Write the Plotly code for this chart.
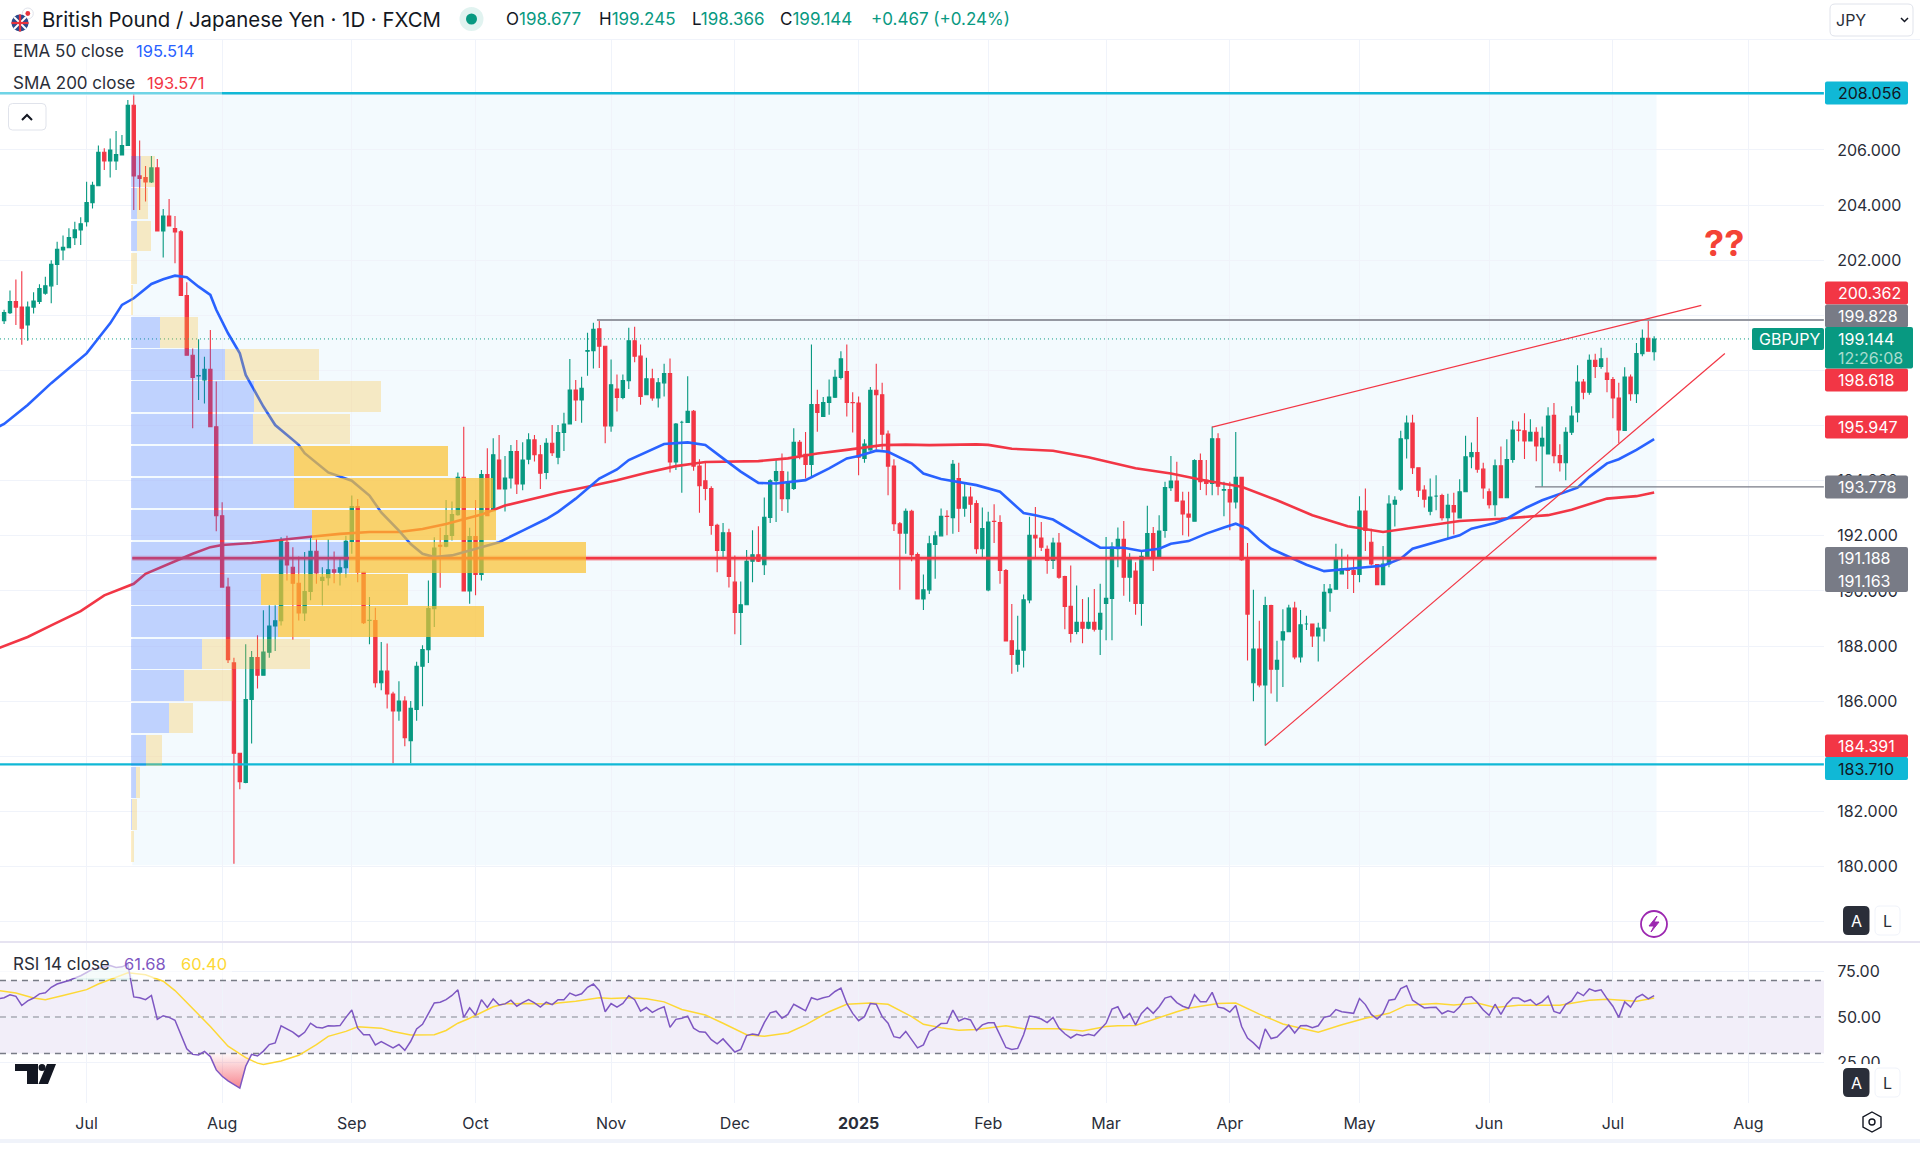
import plotly.graph_objects as go

# GBP/JPY daily candles
opens = [199.81,200.1,200.5,200.3,199.65,200.3,200.5,200.8,201.07,201.85,
    202.37,202.45,202.82,203.1,203.4,204.09,204.7,205.92,205.6,205.6,
    205.82,206.16,207.62,205.06,205,204.84,205.35,203.06,203.6,203.15,
    203.03,200.72,198.55,197.8,197.66,198.04,195.96,192.73,190.14,187.39,
    184.11,183.05,186.06,187.58,186.94,187.78,188.73,188.92,191.77,190.86,
    190.28,189.2,189.98,191.44,190.38,190.48,190.77,190.68,190.84,191.8,
    193.06,190.68,188.93,188.93,186.67,187.09,186.26,185.65,186.01,184.57,
    185.7,187.27,187.87,189.36,191.66,191.62,192.01,192.77,194.12,190,
    191.97,190.6,194.22,192.91,194.75,193.7,194.1,195.06,193.88,194.78,
    195.48,194.94,194.3,195.36,194.85,195.75,196.06,197.29,196.93,198.7,
    198.72,199.51,198.88,195.99,197.33,197.02,197.63,199.08,198.52,197.12,
    197.7,197,197.55,197.89,194.68,196.12,196.11,196.52,194.53,194,
    193.72,192.38,191.47,192.11,190.32,189.22,189.5,191.08,191.31,190.95,
    192.67,194,194.33,193.35,193.72,195.39,194.96,194.59,196.76,196.33,
    196.84,197.03,197.75,197.96,196.84,196.82,194.81,195.12,197.28,197.12,
    195.69,194.53,192.44,192.1,192.89,191.32,189.71,190.04,191.69,192,
    192.71,192.66,194.08,193,193.41,193.17,191.53,190.04,192.53,192.48,
    190.74,188.19,187.34,187.85,189.67,192.02,191.92,191.51,191.11,191.74,
    190.52,189.44,188.53,188.86,188.65,188.86,188.61,
    189.55,189.73,191.53,191.87,190.5,190.72,189.55,191.25,192.08,191.25,
    192.2,193.75,193.99,193.26,192.79,192.53,194.73,194.02,193.9,195.52,
    193.66,193.68,193.23,194.12,191.13,186.67,187.89,186.59,189.47,187.16,
    188.22,188.52,189.38,187.61,188.8,188.8,188.37,188.65,189.94,190.06,
    190.62,190.77,190.74,190.6,192.9,191.77,190.96,190.23,190.98,193.15,
    193.69,195.52,196.09,194.47,193.66,192.89,193.44,193.46,192.66,193.1,
    192.65,193.6,194.87,195.02,194.42,193.6,193.13,194.54,193.38,194.77,
    195.84,195.81,195.44,195.76,195.26,194.97,196.37,194.91,194.65,195.76,
    196.49,197.58,197.21,198.37,198.15,197.91,197.67,197,195.82,197.76,
    197.16,198.61,199.17,198.677]
highs = [200.2,200.9,201.3,201.6,200.5,200.84,201.13,201.4,202,202.67,
    202.9,203.16,203.4,203.56,204.85,204.85,206.16,206.06,206.42,206.69,
    206.54,207.81,208.05,206.34,205.42,205.78,205.67,203.86,204.22,203.6,
    203.1,201.2,198.8,199.13,198.5,199.47,197.6,193.22,190.48,187.58,
    184.13,188.07,187.82,188.39,189.3,189.48,189.48,191.95,192,191.59,
    191.25,191.41,191.95,191.89,190.86,191.88,191.43,191.23,192,193.46,
    193.34,190.68,189.78,189.39,188.15,188.09,186.34,186.72,186.18,186.01,
    187.43,188.03,190.38,191.95,192.29,193.3,193.25,194.3,195.96,192.29,
    193.3,194.39,195.18,195.54,195.66,194.9,195.3,195.48,195.4,195.72,
    195.66,195.3,195.54,196.02,196.02,196.47,198.42,197.65,197.77,199.37,
    199.73,199.85,198.9,198.4,197.85,197.85,199.55,199.59,198.94,198.46,
    198.06,197.73,198.24,198.43,196.09,196.18,197.79,196.57,194.78,194.65,
    193.8,192.44,192.47,192.26,191.29,190.34,191.49,192.2,192.35,193.39,
    194.05,194.75,194.99,194.33,195.9,195.48,195.77,198.94,197.3,197.04,
    197.67,198.03,198.7,198.94,197.21,197.06,195.5,197.4,198.24,197.55,
    195.82,194.78,192.5,192.99,192.95,191.4,190.6,192,192.17,192.99,
    192.93,194.75,194.65,193.92,193.78,193.29,193.03,192.87,193.15,192.75,
    190.8,189.53,189.1,189.87,192.69,193.05,192.5,191.65,191.93,192.1,
    190.55,190.92,190.2,189.71,189.77,190.07,190.26,
    191.96,191.77,192.3,192.54,191.37,191.04,191.47,193.09,192.32,192.75,
    193.96,194.9,194.69,193.6,193.6,194.78,194.99,194.75,195.97,195.72,
    193.96,193.96,195.77,194.14,191.74,190.04,188.92,189.79,189.5,188.19,
    189.34,189.5,189.61,189.31,189.1,188.82,188.85,190.25,190.25,191.71,
    191.53,191.32,191.17,193.44,193.72,192.26,190.98,191.63,193.47,193.44,
    195.81,196.37,196.39,194.47,193.84,194.08,194.2,193.53,193.53,193.56,
    194.05,195.63,195.39,196.31,194.65,193.72,194.77,195.24,195.5,196.18,
    196.15,196.45,196.23,195.94,195.97,196.67,196.82,195.32,195.94,196.7,
    198.19,197.69,198.58,198.61,198.82,198.46,197.76,197.55,198.12,197.85,
    199,199.49,199.83,199.245]
lows = [199.69,200.05,199.65,198.93,199.08,200.07,200.41,200.75,200.44,201.1,
    202,202.43,202.55,202.55,203.22,203.88,204.7,205.27,205,205.27,
    205.82,206.16,203.82,203.82,204.13,204.8,203.04,202.1,203.24,201.89,
    200.72,198.55,195.9,196.93,196.8,195.94,192.17,190.14,187.39,180.1,
    182.81,183.02,184.47,186.46,186.94,187.58,187.82,188.75,190.38,188.23,
    188.93,188.91,189.66,190.26,189.48,190.2,190.28,190.2,190.48,191.35,
    190.32,188.8,188.07,186.5,186.4,185.74,183.75,185.29,184.37,183.75,
    185.29,185.82,187.39,188.69,190.12,191.59,191.83,192.73,190,189.54,
    189.84,190.38,192.73,192.91,193.7,192.88,193.72,193.52,193.65,194.6,
    194.7,193.7,194.05,194.9,194.6,195.08,196.06,196.17,196.1,197.81,
    198.07,198.09,195.36,195.78,196.51,196.96,197.33,198.3,196.76,197.12,
    196.9,196.66,197.06,194.3,194.39,193.56,196.09,194.36,192.84,193.29,
    192.04,190.68,191.17,190.13,188.43,188.04,189.5,190.32,191.05,190.58,
    192.47,192.5,192.9,192.84,193.66,194.78,194.08,194.14,195.78,196.33,
    196.39,197,197.67,196.33,195.75,194.2,194.65,195.09,195.12,195.12,
    193.47,192.18,190.04,191.35,191.08,189.71,189.31,189.89,190.44,191.98,
    192.02,192.08,192.14,192.69,192.47,191.35,191.23,189.99,191.74,190.26,
    188.19,187,187.07,187.22,189.55,191.2,191.45,190.62,190.8,190.44,
    188.61,188.13,188.43,188.1,188.61,188.53,187.68,
    188.21,188.21,190.86,189.83,189.61,189.14,188.74,191.23,190.72,191.23,
    191.93,193.63,193.26,192.02,191.98,192.53,193.66,193.47,193.47,193.47,
    192.71,192.2,192.99,191.1,187.48,186,186.51,184.39,186.28,185.98,
    186.52,188.5,187.52,187.4,188.58,187.97,187.44,188.17,189.25,190.04,
    190.62,190.07,189.93,190.32,191.45,190.92,190.23,190.23,190.86,192.34,
    193.63,194.81,194.24,193.41,193.03,192.75,192.93,192.56,191.9,192.05,
    192.65,193.6,194.45,194.29,193.35,192.99,192.71,193.38,193.38,194.65,
    195.42,194.79,195.44,194.71,193.78,194.97,194.63,194.33,194.02,195.66,
    196.12,196.96,197.12,197.73,198.06,197.21,196.27,195.36,195.82,196.9,
    196.82,198.52,198.68,198.366]
closes = [200.1,200.5,200.3,199.53,200.3,200.52,200.97,201.07,201.85,202.4,
    202.47,202.82,203.1,203.32,204.09,204.72,205.92,205.6,206,205.83,
    206.16,207.62,205.06,204.97,204.84,205.35,203.06,203.6,203.24,203.03,
    200.72,198.55,197.75,197.82,198.04,195.96,192.73,190.14,187.51,184.11,
    183.08,186.06,187.58,186.94,187.78,188.73,188.92,191.83,190.94,190.28,
    189.2,189.98,191.44,190.65,190.5,190.77,190.68,190.84,191.8,193.06,
    190.68,188.85,188.94,186.67,187.09,186.26,185.65,186.01,184.68,185.74,
    187.27,187.87,189.36,191.56,191.62,192.01,192.77,194.12,190,191.97,
    190.6,194.22,192.73,194.94,193.7,194.1,195.06,193.88,194.75,195.48,
    194.94,194.27,195.36,195.02,195.75,196.06,197.29,196.93,197.35,198.72,
    199.49,198.88,195.99,197.48,197.02,197.63,199.08,198.52,197.06,197.7,
    197,197.55,197.89,194.68,196.06,196.12,196.52,194.53,193.82,193.72,
    192.38,191.47,192.11,190.53,189.22,189.5,191.08,191.31,191.08,192.67,
    194,194.33,193.35,193.96,195.39,194.93,194.59,196.76,196.48,196.84,
    197.04,197.75,198.42,196.84,196.83,194.85,195.33,197.28,197.12,195.69,
    194.53,192.44,192.1,192.89,191.32,189.71,190.04,191.71,192,192.71,
    192.7,194.6,193,193.41,193.15,191.53,192.26,192.5,192.52,190.74,
    188.19,187.7,187.85,189.68,192.02,191.92,191.59,191.11,191.74,190.5,
    189.44,188.46,188.86,188.65,188.86,188.61,189.19,
    189.73,191.59,191.87,190.5,191.17,189.55,191.26,192.08,191.25,192.17,
    193.75,193.99,193.26,192.79,192.68,194.73,193.96,193.9,195.52,193.8,
    193.68,193.23,194.12,191.13,189.16,187.89,186.59,189.47,187.16,187.48,
    188.52,189.38,187.61,188.77,188.8,188.37,188.65,189.95,190.07,191.14,
    190.8,190.74,190.6,192.9,192.2,190.98,190.23,190.98,193.15,193.29,
    195.52,196.09,194.47,193.66,193.33,193.41,193.44,192.66,193.11,192.87,
    193.6,194.87,195.02,194.42,193.74,193.13,194.54,193.38,194.77,195.84,
    195.82,195.44,195.76,195.26,195.54,196.35,194.91,194.65,195.76,196.35,
    197.58,197.21,198.37,198.15,198.42,197.67,197,195.84,197.76,197.16,
    198.61,199.17,198.7,199.144]

# moving averages, read at irregular bars
ema_bar = [-1,0,4,8,11,14,16,18,20,22,25,27,29,31,33,35,36,38,40,41,44,46,50,51,55,59,62,64,67,69,71,
    73,76,78,80,84,88,92,94,97,101,104,106,109,112,116,119,122,125,128,131,136,140,143,145,148,150,
    154,156,159,162,165,169,173,175,178,182,186,190,193,196,198,201,204,207,209,211,213,215,218,221,
    224,227,231,234,237,239,243,247,249,253,255,258,261,265,267,269,272,274,277,280]
ema_50 = [195.95,196.06,196.75,197.54,198.08,198.62,199.17,199.71,200.38,200.62,201.14,201.31,201.44,201.38,201.04,
    200.74,200.2,199.35,198.62,197.84,196.69,196.02,195.3,195,194.3,194,193.46,192.85,192.19,191.7,191.35,
    191.23,191.29,191.41,191.53,191.77,192.19,192.61,192.87,193.35,194.08,194.41,194.75,195.05,195.33,195.39,
    195.3,194.81,194.33,193.92,193.9,194.02,194.45,194.81,194.9,195.09,195.05,194.63,194.26,194.06,193.96,
    193.84,193.6,192.83,192.75,192.59,192.08,191.57,191.57,191.45,191.53,191.71,191.81,192.08,192.3,192.44,
    192.26,191.86,191.53,191.23,190.95,190.72,190.77,190.86,190.92,191.17,191.53,191.77,192.02,192.26,192.47,
    192.62,192.99,193.29,193.6,193.75,194.14,194.63,194.78,195.12,195.51]
sma_bar = [-1,0,4,8,13,17,22,24,28,32,35,37,42,48,52,57,62,67,71,75,78,81,85,89,94,99,104,109,114,119,123,128,
    133,138,143,149,153,157,165,167,171,178,184,192,198,204,210,216,222,228,234,239,247,254,262,266,272,277,280]
sma_200 = [187.92,188,188.33,188.75,189.27,189.84,190.26,190.62,190.98,191.35,191.59,191.67,191.74,191.89,191.97,192.07,
    192.14,192.14,192.25,192.43,192.61,192.77,193.1,193.3,193.56,193.78,194.02,194.29,194.53,194.68,194.7,194.71,
    194.81,194.99,195.12,195.29,195.31,195.29,195.32,195.3,195.16,195.09,194.85,194.45,194.26,194,193.78,193.29,
    192.75,192.35,192.14,192.3,192.54,192.62,192.75,192.95,193.35,193.44,193.57]

# RSI pane
rsi_14 = [60,60.6,62.2,61.3,56.3,58.8,60.4,62.7,63.3,66.3,68.1,
    69,70,71.4,72.6,74.4,76.2,76.7,77.3,78.2,77.1,
    77.5,79,61,60.6,59.5,61.8,48.7,50.7,49.8,48.2,
    40.3,32.6,29.5,29.2,31.1,28.3,21,17.5,15,12.9,
    11,23,29.5,28.6,31.3,34.9,35.8,45.2,43.4,41.7,
    39.2,41.6,46.6,44.4,44,45.2,45,45.3,49.8,53.8,
    43.9,40.3,40.3,34.7,36.5,34.9,33.1,34.9,31.7,36.7,
    43.4,46,52.3,57.7,58.1,59.5,61.8,64.9,49.8,55,
    51,59.5,55.2,59.9,56.6,57.2,59.2,55.9,57.9,59.5,
    57.7,55.4,58.1,56.8,59.5,59.5,63.1,61.7,62.7,66.3,
    68.1,64.5,52.9,57.4,55.4,57.4,61.7,59.5,53.2,55.2,
    52.5,54.3,55.6,44.3,48.7,49.3,50.5,43.9,41.9,41.6,
    37.6,35.3,38,34.4,30.8,32.2,39.8,40.7,40.1,46.9,
    52.3,53.2,49.3,51.4,57,55.2,53.4,60.6,59.5,60.6,
    61.3,64,65.8,57.4,52,48,50.2,57.4,57,50.2,
    46.6,39.2,38.5,42.1,37.6,33.1,34.7,42.1,43.9,46.4,
    46.6,53.8,47.8,49.3,48.4,42.6,45.7,46.8,46.8,39.8,
    33.3,32.2,32.8,40.3,50.5,50,48.9,46.9,49.8,43.9,
    40.8,38.5,40.5,39.8,40.5,39.8,43.4,46.6,54.3,55.6,
    49.3,52,45.7,52,55.2,52,55.6,60.4,61.3,57.9,
    55.9,54.8,62.2,58.4,58.3,63.5,55.4,54.8,52.7,56.3,
    44.8,38.5,35.8,32.6,43.5,38.2,39,42.5,45.5,41.2,
    45.2,45.3,44.1,45.2,49.8,50.5,54.1,52.9,52.5,52,
    60.1,56.8,51.4,48.9,52,59.2,59.7,65.6,67.1,59.2,
    57,55,55.2,55.4,51.8,53.4,52.5,55.6,60.6,61.1,
    57.9,53.8,50.9,57,51.4,57.2,60.4,60.4,58.4,59.5,
    56.6,58.3,61.5,53.1,52,57,58.8,63.6,61.7,65.4,
    64.2,64.9,60.1,55.9,49.8,58.3,55.4,60.6,62.4,59.9,61.7]
rsi_ma_bar = [-1,2,5,7,10,14,16,19,21,24,27,29,32,35,38,41,43,44,47,50,53,55,58,60,64,66,69,73,75,77,79,83,85,89,93,
    94,97,101,103,106,109,112,115,119,122,126,129,133,136,140,143,147,150,154,156,159,162,165,170,173,179,183,187,
    189,192,196,199,201,206,209,213,217,220,223,227,231,235,238,243,246,250,253,257,264,269,272,277,280]
rsi_ma = [64.5,63.1,60.4,59.5,61.8,65,68.1,72,74.2,73.2,69.6,64.5,54.7,44.8,34,27.7,24.7,24,25.9,29,34.9,39.4,42.1,44.6,
    43.9,42.1,40.1,40.3,42.6,46.6,49.3,55.6,57.2,57.4,57,57.7,58.6,60.6,60.2,60.6,60,58.3,54.1,51.1,46.6,40.3,39.4,41.2,
    45.7,52.9,57,57.7,57,50.2,46,44.1,42.8,43.2,45.2,43.5,43.5,42.3,44.8,45.2,45.3,49.8,52.9,54.8,57.4,57.7,51.6,46.2,
    43.9,41.6,45.7,49.3,52,56.5,57.4,56.6,57.7,55.2,56.5,56.5,59.2,59.7,58.6,60.4]

# volume profile rows, top to bottom
row_price = [205.21,204.05,202.88,201.71,200.55,199.38,198.22,197.05,195.88,194.72,193.55,
    192.39,191.22,190.05,188.89,187.72,186.56,185.39,184.22,183.06,181.89,180.73]
vol_up = [10,6,6,0,0,29,94,123,122,163,163,181,218,130,147,71,53,38,15.5,5,1,0]
vol_down = [14.5,11.5,14,6,2,38,94.6,127,97,154.5,199,184,237,147,206,108,49,24,15.5,4,5.5,3]
value_area = [False]*9 + [True]*6 + [False]*7

month_bars = [14,37,59,80,103,124,145,167,187,208,230,252,273,296]
month_labels = ['Jul','Aug','Sep','Oct','Nov','Dec','<b>2025</b>','Feb','Mar','Apr','May','Jun','Jul','Aug']
price_ticks = list(range(178, 212, 2))
price_tick_text = ['','180.000','182.000','','186.000','188.000','190.000','192.000','194.000','','','','202.000','204.000','206.000','','210.000']

W, H = 1920, 1151
AXIS_X = 1824
FIRST_BAR_PX, BAR_PX = 4.1, 5.893
UP, DOWN = '#089981', '#f23645'
CYAN, GREY = '#10b8d6', '#787b86'
TEXT = '#2a2e39'
FONT = 'Inter'


def fx(x):
    return x / W


def fy(y):
    return 1 - y / H


def rounded(x0, y0, x1, y1, r=3):
    p = [f'M{fx(x0 + r)},{fy(y0)}', f'L{fx(x1 - r)},{fy(y0)}', f'Q{fx(x1)},{fy(y0)} {fx(x1)},{fy(y0 + r)}',
         f'L{fx(x1)},{fy(y1 - r)}', f'Q{fx(x1)},{fy(y1)} {fx(x1 - r)},{fy(y1)}', f'L{fx(x0 + r)},{fy(y1)}',
         f'Q{fx(x0)},{fy(y1)} {fx(x0)},{fy(y1 - r)}', f'L{fx(x0)},{fy(y0 + r)}', f'Q{fx(x0)},{fy(y0)} {fx(x0 + r)},{fy(y0)}', 'Z']
    return ' '.join(p)


def poly(points, closed=True):
    s = 'M' + ' L'.join(f'{fx(x)},{fy(y)}' for x, y in points)
    return s + (' Z' if closed else '')


shapes = []
annotations = []


def box(x0, y0, x1, y1, fill, line=None, r=0):
    if r:
        shapes.append(dict(type='path', path=rounded(x0, y0, x1, y1, r), xref='paper', yref='paper',
                           fillcolor=fill, line=dict(color=line or fill, width=1 if line else 0)))
    else:
        shapes.append(dict(type='rect', x0=fx(x0), x1=fx(x1), y0=fy(y0), y1=fy(y1), xref='paper', yref='paper',
                           fillcolor=fill, line=dict(width=0)))


def circle(cx, cy, r, fill, line=None, width=0):
    shapes.append(dict(type='circle', x0=fx(cx - r), x1=fx(cx + r), y0=fy(cy - r), y1=fy(cy + r), xref='paper', yref='paper',
                       fillcolor=fill, line=dict(color=line or fill, width=width)))


def outline(points, color, width=1.5, fill=None, closed=False):
    shapes.append(dict(type='path', path=poly(points, closed), xref='paper', yref='paper',
                       fillcolor=fill or 'rgba(0,0,0,0)', line=dict(color=color, width=width)))


def text(s, x, y, size=16, color=TEXT, anchor='left'):
    annotations.append(dict(text=s, x=fx(x), y=fy(y), xref='paper', yref='paper', showarrow=False, xanchor=anchor,
                            yanchor='middle', align=anchor, borderpad=0, font=dict(family=FONT, size=size, color=color)))


bars = list(range(len(closes)))
rsi_bars = [-1] + bars
level_left, level_right = -0.7, 308.8
fig = go.Figure()

# shaded range of the volume profile
shapes.append(dict(type='rect', xref='x', yref='y', x0=21.75, x1=280.4, y0=180.05, y1=208.056,
                   fillcolor='#f3fafe', line=dict(width=0), layer='below'))
# RSI band
shapes.append(dict(type='rect', xref='paper', yref='y2', x0=0, x1=fx(AXIS_X), y0=30, y1=70,
                   fillcolor='rgba(126,87,194,0.1)', line=dict(width=0), layer='below'))

fig.add_trace(go.Candlestick(x=bars, open=opens, high=highs, low=lows, close=closes, whiskerwidth=0,
                             increasing=dict(line=dict(color=UP, width=1.1), fillcolor=UP),
                             decreasing=dict(line=dict(color=DOWN, width=1.1), fillcolor=DOWN), xaxis='x', yaxis='y'))
fig.add_trace(go.Scatter(x=sma_bar, y=sma_200, mode='lines', line=dict(color=DOWN, width=2.6), xaxis='x', yaxis='y'))
fig.add_trace(go.Scatter(x=ema_bar, y=ema_50, mode='lines', line=dict(color='#2962ff', width=2.6), xaxis='x', yaxis='y'))


def level(x0, x1, price, color, width, dash='solid'):
    fig.add_trace(go.Scatter(x=[x0, x1], y=[price, price], mode='lines', line=dict(color=color, width=width, dash=dash),
                             xaxis='x', yaxis='y'))


level(level_left, 296.6, 199.144, UP, 1, '1px,3px')
level(21.75, 280.4, 191.188, 'rgba(242,54,69,0.35)', 5)
level(21.75, 280.4, 191.188, DOWN, 2.6)
level(level_left, level_right, 208.056, CYAN, 2.4)
level(level_left, level_right, 183.710, CYAN, 2.4)
level(100.6, level_right, 199.828, '#9598a1', 2)
level(259.8, level_right, 193.778, GREY, 1.4)

# wedge
fig.add_trace(go.Scatter(x=[205, 288], y=[195.947, 200.362], mode='lines', line=dict(color=DOWN, width=1.2), xaxis='x', yaxis='y'))
fig.add_trace(go.Scatter(x=[214, 292], y=[184.391, 198.618], mode='lines', line=dict(color=DOWN, width=1.2), xaxis='x', yaxis='y'))

# volume profile, drawn over the candles
yellow = ['rgba(251,192,45,0.7)' if v else 'rgba(251,192,45,0.28)' for v in value_area]
fig.add_trace(go.Bar(x=vol_up, y=row_price, orientation='h', width=1.11, marker=dict(color='rgba(41,98,255,0.26)', line=dict(width=0)),
                     xaxis='x3', yaxis='y'))
fig.add_trace(go.Bar(x=vol_down, y=row_price, orientation='h', width=1.11, marker=dict(color=yellow, line=dict(width=0)),
                     xaxis='x3', yaxis='y'))

# RSI
band_dash = '6px,5px'
for value, color, width in [(70, GREY, 1.4), (50, 'rgba(120,123,134,0.45)', 2), (30, GREY, 1.4)]:
    fig.add_trace(go.Scatter(x=[level_left, level_right], y=[value, value], mode='lines',
                             line=dict(color=color, width=width, dash=band_dash), xaxis='x2', yaxis='y2'))
low_bars = bars[34:43]
fig.add_trace(go.Scatter(x=low_bars, y=[30] * len(low_bars), mode='lines', line=dict(width=0), xaxis='x2', yaxis='y2'))
fig.add_trace(go.Scatter(x=low_bars, y=[min(v, 30) for v in rsi_14[35:44]], mode='lines', line=dict(width=0), fill='tonexty',
                         fillgradient=dict(type='vertical', start=11, stop=30,
                                           colorscale=[[0, 'rgba(242,54,69,0.6)'], [1, 'rgba(242,54,69,0.04)']]),
                         xaxis='x2', yaxis='y2'))
high_bars = bars[11:23]
fig.add_trace(go.Scatter(x=high_bars, y=[70] * len(high_bars), mode='lines', line=dict(width=0), xaxis='x2', yaxis='y2'))
fig.add_trace(go.Scatter(x=high_bars, y=[max(v, 70) for v in rsi_14[12:24]], mode='lines', line=dict(width=0), fill='tonexty',
                         fillcolor='rgba(8,153,129,0.1)', xaxis='x2', yaxis='y2'))
fig.add_trace(go.Scatter(x=rsi_ma_bar, y=rsi_ma, mode='lines', line=dict(color='#fdd835', width=1.5), xaxis='x2', yaxis='y2'))
fig.add_trace(go.Scatter(x=rsi_bars, y=rsi_14, mode='lines', line=dict(color='#7e57c2', width=1.5), xaxis='x2', yaxis='y2'))

# masks and panel edges
box(0, 0, W, 39, 'white')
box(0, 39, W, 40, '#f0f3fa')
box(0, 40, 222, 96, 'rgba(255,255,255,0.4)')
box(AXIS_X + 1, 1064, W, 1103, 'white')
box(0, 941, W, 943, '#e6e3f1')
box(0, 1139, W, 1143, '#f0f3fa')
box(0, 950, 232, 978, 'rgba(255,255,255,0.6)')

# header
circle(27.8, 13.5, 5.5, 'white', '#e0e3eb', 1)
circle(27.8, 13.5, 2.4, '#e8323c')
circle(20, 23, 8.5, '#2c4a8c')
for pts, col, w in [([(14, 17), (26, 29)], 'white', 2), ([(26, 17), (14, 29)], 'white', 2),
                    ([(20, 14.5), (20, 31.5)], '#e8323c', 2.2), ([(11.5, 23), (28.5, 23)], '#e8323c', 2.2)]:
    outline(pts, col, w)
circle(471.5, 19, 12, 'rgba(8,153,129,0.12)')
circle(471.5, 19, 5.5, UP)
text('British Pound / Japanese Yen · 1D · FXCM', 41, 19.5, 20.4, '#131722')
g = f'color:{UP}'
ohlc_x = [505, 598, 691, 779]
ohlc_text = ['O', 'H', 'L', 'C']
ohlc_values = ['198.677', '199.245', '198.366', '199.144']
for x, t, v in zip(ohlc_x, ohlc_text, ohlc_values):
    text(f'{t}<span style="{g}">{v}</span>', x, 19.5, 17, '#131722')
text('+0.467 (+0.24%)', 870, 19.5, 17, UP)
text('EMA 50 close', 12, 51, 17)
text('195.514', 135, 51, 16.5, '#2962ff')
text('SMA 200 close', 12, 83, 17)
text('193.571', 146, 83, 16.5, DOWN)
text('RSI 14 close', 12, 964, 17)
text('61.68', 123, 964, 16.5, '#7e57c2')
text('60.40', 180, 964, 16.5, '#fdd835')

# collapse button
box(8.5, 103.5, 46, 130, 'white', '#e0e3eb', 4)
outline([(22, 120), (27, 115), (32, 120)], '#131722', 2)

# currency selector
box(1830, 4, 1913, 36, 'white', '#e0e3eb', 5)
text('JPY', 1835, 20, 16)
outline([(1901, 18), (1904.5, 21.5), (1908, 18)], '#131722', 1.5)

# price tags
tag_text = ['208.056', '200.362', '199.828', '198.618', '195.947', '193.778', '184.391', '183.710']
tag_y = [93, 293, 316, 380, 427, 487, 746, 768.5]
tag_fill = [CYAN, DOWN, GREY, DOWN, DOWN, GREY, DOWN, CYAN]
tag_ink = ['#131722', 'white', 'white', 'white', 'white', 'white', 'white', '#131722']
box(1825, 547, 1908, 592, GREY, None, 2)
for t, y, fill, ink in zip(tag_text, tag_y, tag_fill, tag_ink):
    box(1825, y - 11.5, 1908, y + 11.5, fill, None, 2)
    text(t, 1836.5, y, 16, ink)
text('191.188', 1836.5, 558, 16, 'white')
text('191.163', 1836.5, 581, 16, 'white')
box(1825, 327, 1913, 368.5, UP, None, 2)
text('199.144', 1837, 339, 16, 'white')
text('12:26:08', 1837, 357.5, 16, '#a8dccf')
box(1752, 328, 1824, 350, UP, None, 2)
text('GBPJPY', 1758, 339, 16, 'white')

text('<b>??</b>', 1723.5, 243, 36, '#f44336', 'center')

# lightning badge
circle(1654, 924, 13, 'white', '#9c27b0', 1.8)
outline([(1657, 916), (1649, 926), (1654, 926), (1651, 932), (1659, 922), (1654, 922)], '#9c27b0', 1, '#9c27b0', True)

# auto and log buttons
for y0, y1 in [(906, 935), (1068, 1097)]:
    box(1843, y0, 1869.5, y1, '#2a2e39', None, 5)
    text('A', 1856.2, (y0 + y1) / 2, 16, 'white', 'center')
    box(1875, y0, 1900, y1, 'white', '#f0f3fa', 5)
    text('L', 1887.5, (y0 + y1) / 2, 16, TEXT, 'center')

# logo
outline([(15, 1064), (38, 1064), (38, 1084), (27, 1084), (27, 1071), (15, 1071)], '#131722', 0, '#131722', True)
outline([(56, 1064), (48, 1084), (38.5, 1084), (47, 1064)], '#131722', 0, '#131722', True)
circle(42, 1067.5, 3.5, '#131722')

# settings hexagon
outline([(1872, 1112), (1881, 1117), (1881, 1127), (1872, 1132), (1863, 1127), (1863, 1117)], '#131722', 1.4, None, True)
circle(1872, 1122, 3, 'white', '#131722', 1.4)

grid = '#f0f3fa'
x_range = [(0 - FIRST_BAR_PX) / BAR_PX, (AXIS_X - FIRST_BAR_PX) / BAR_PX]
x_dom = [0, fx(AXIS_X)]
fig.update_layout(
    width=W, height=H, margin=dict(l=0, r=0, t=0, b=0), paper_bgcolor='white', plot_bgcolor='white',
    showlegend=False, barmode='stack', boxgap=0.2, font=dict(family=FONT, size=16, color=TEXT),
    xaxis=dict(domain=x_dom, range=x_range, anchor='y', tickvals=month_bars, showticklabels=False, showgrid=True, gridcolor=grid,
               zeroline=False, showline=False, ticks='', rangeslider=dict(visible=False)),
    xaxis2=dict(domain=x_dom, range=x_range, anchor='y2', tickvals=month_bars, ticktext=month_labels, showgrid=True, gridcolor=grid,
                zeroline=False, showline=False, ticks='outside', ticklen=6, tickcolor='rgba(0,0,0,0)', tickangle=0,
                tickfont=dict(family=FONT, size=16, color=TEXT)),
    xaxis3=dict(overlaying='x', anchor='y', range=[-130.6, AXIS_X - 130.6], visible=False),
    yaxis=dict(domain=[fy(941), fy(40)], range=[177.3, 209.99], anchor='x', side='right', tickvals=price_ticks, ticktext=price_tick_text,
               showgrid=True, gridcolor=grid, zeroline=False, ticks='outside', ticklen=9, tickcolor='rgba(0,0,0,0)',
               tickfont=dict(family=FONT, size=16, color=TEXT)),
    yaxis2=dict(domain=[fy(1103), fy(942)], range=[2.85, 91.12], anchor='x2', side='right', tickvals=[25, 50, 75],
                ticktext=['25.00', '50.00', '75.00'], showgrid=True, gridcolor=grid, zeroline=False, ticks='outside', ticklen=9,
                tickcolor='rgba(0,0,0,0)', tickfont=dict(family=FONT, size=16, color=TEXT)),
    shapes=shapes, annotations=annotations,
)

fig.write_html("out.html", config=dict(displayModeBar=False), post_script="document.body.style.margin='0';")
